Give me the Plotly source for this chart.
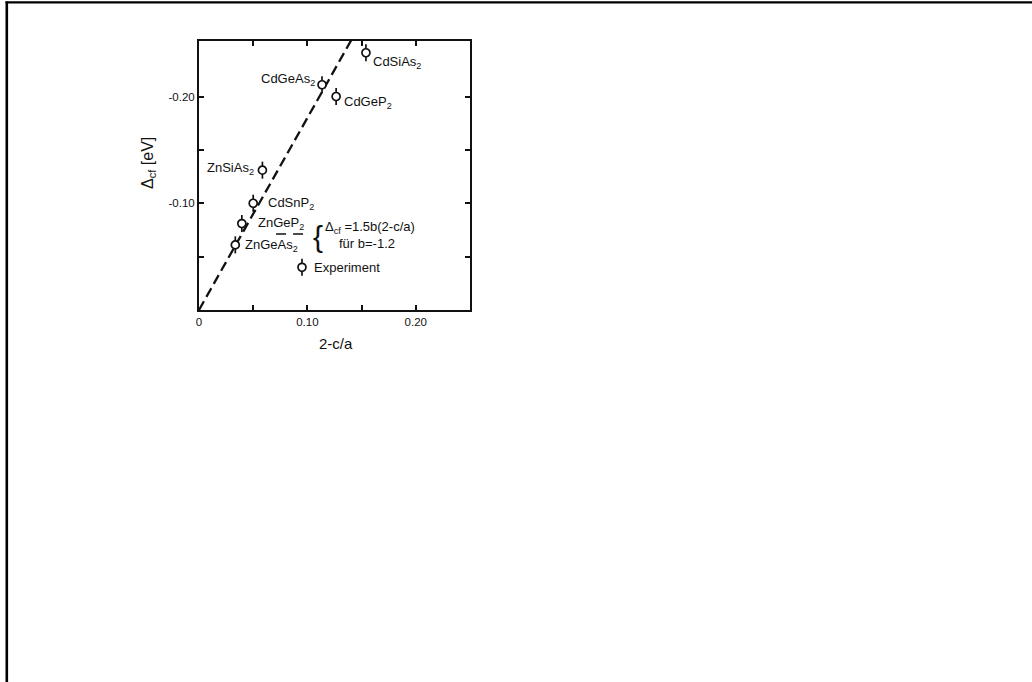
import plotly.graph_objects as go

# Crystal-field splitting vs. tetragonal distortion for chalcopyrite compounds
compounds = ["CdSiAs<sub>2</sub>", "CdGeAs<sub>2</sub>", "CdGeP<sub>2</sub>", "ZnSiAs<sub>2</sub>",
             "CdSnP<sub>2</sub>", "ZnGeP<sub>2</sub>", "ZnGeAs<sub>2</sub>", "Experiment"]
distortion = [0.154, 0.1135, 0.1265, 0.0585, 0.050, 0.0395, 0.0335, 0.095]      # 2-c/a
delta_cf = [-0.241, -0.211, -0.200, -0.131, -0.100, -0.081, -0.061, -0.040]      # eV
delta_err = [0.008, 0.008, 0.008, 0.008, 0.008, 0.008, 0.008, 0.008]

# label placement relative to each point (pixels)
label_anchor = ["left", "right", "left", "right", "left", "left", "left", "left"]
label_dx = [5, -5, 6, -6, 13, 14, 8, 10]
label_dy = [-10, 5, -6, 2, 0, 0, -1, 0]

# linear model  Δcf = 1.5 b (2 - c/a)  with b = -1.2
b_param = -1.2
model_x = [0.0, 0.16]
model_y = [1.5 * b_param * x for x in model_x]

x_ticks = [0, 0.05, 0.10, 0.15, 0.20]
x_ticktext = ["0", "", "0.10", "", "0.20"]
y_ticks = [-0.05, -0.10, -0.15, -0.20]
y_ticktext = ["", "-0.10", "", "-0.20"]

W, H = 1032, 682
L, R, T, B = 199, 562, 41, 372
PW, PH = W - L - R, H - T - B


def px_x(p):
    return (p - L) / PW


def px_y(p):
    return (H - B - p) / PH


FONT = "Liberation Sans, Arial, sans-serif"
INK = "#111111"

fig = go.Figure()

fig.add_trace(go.Scatter(
    x=model_x, y=model_y, mode="lines",
    line=dict(color=INK, width=2.3, dash="10px,5px"),
    hoverinfo="skip", showlegend=False,
))

fig.add_trace(go.Scatter(
    x=distortion, y=delta_cf, mode="markers",
    marker=dict(symbol="circle", size=8, color="white", line=dict(color=INK, width=1.7)),
    error_y=dict(type="data", array=delta_err, visible=True, color=INK, thickness=1.7, width=0),
    showlegend=False,
))

annotations = []
for name, x, y, anc, dx, dy in zip(compounds, distortion, delta_cf, label_anchor, label_dx, label_dy):
    annotations.append(dict(
        x=x, y=y, xref="x", yref="y", text=name, showarrow=False,
        xanchor=anc, yanchor="middle", xshift=dx, yshift=dy,
        font=dict(family=FONT, size=13, color=INK),
    ))

# model legend: dashed sample, brace and formula
fig.add_shape(type="line", xref="x", yref="y", x0=0.0711, x1=0.0994, y0=-0.0712, y1=-0.0712,
              line=dict(color=INK, width=1.6, dash="10px,7px"))
annotations += [
    dict(x=px_x(318), y=px_y(236), xref="paper", yref="paper", text="{", showarrow=False,
         xanchor="center", yanchor="middle", font=dict(family=FONT, size=30, color=INK)),
    dict(x=px_x(322.5), y=px_y(227), xref="paper", yref="paper",
         text="Δ<sub>cf</sub> =1.5b(2-c/a)", showarrow=False,
         xanchor="left", yanchor="middle", font=dict(family=FONT, size=13, color=INK)),
    dict(x=px_x(367), y=px_y(243), xref="paper", yref="paper",
         text="für b=-1.2", showarrow=False,
         xanchor="center", yanchor="middle", font=dict(family=FONT, size=13, color=INK)),
    # axis titles
    dict(x=px_x(336), y=px_y(343), xref="paper", yref="paper", text="2-c/a", showarrow=False,
         xanchor="center", yanchor="middle", font=dict(family=FONT, size=15, color=INK)),
    dict(x=px_x(148), y=px_y(163), xref="paper", yref="paper", text="Δ<sub>cf</sub> [eV]",
         showarrow=False, textangle=-90, xanchor="center", yanchor="middle",
         font=dict(family=FONT, size=16, color=INK)),
]

# page frame on the left and top edges
fig.add_shape(type="line", xref="paper", yref="paper", x0=px_x(6.8), x1=px_x(6.8),
              y0=px_y(1.5), y1=px_y(H + 2), line=dict(color="black", width=2.6))
fig.add_shape(type="line", xref="paper", yref="paper", x0=px_x(5.5), x1=px_x(W + 2),
              y0=px_y(2.3), y1=px_y(2.3), line=dict(color="black", width=2.2))

axis_common = dict(
    showline=True, linecolor=INK, linewidth=2, mirror="ticks",
    ticks="inside", ticklen=5, tickwidth=1.5, tickcolor=INK,
    showgrid=False, zeroline=False,
    tickfont=dict(family=FONT, size=11.5, color=INK),
)

fig.update_layout(
    width=W, height=H,
    margin=dict(l=L, r=R, t=T, b=B, pad=0),
    paper_bgcolor="white", plot_bgcolor="white",
    xaxis=dict(range=[0, 0.25], tickmode="array", tickvals=x_ticks, ticktext=x_ticktext, **axis_common),
    yaxis=dict(range=[0, -0.252], tickmode="array", tickvals=y_ticks, ticktext=y_ticktext, **axis_common),
    annotations=annotations,
    showlegend=False,
)

fig.write_html("out.html")
